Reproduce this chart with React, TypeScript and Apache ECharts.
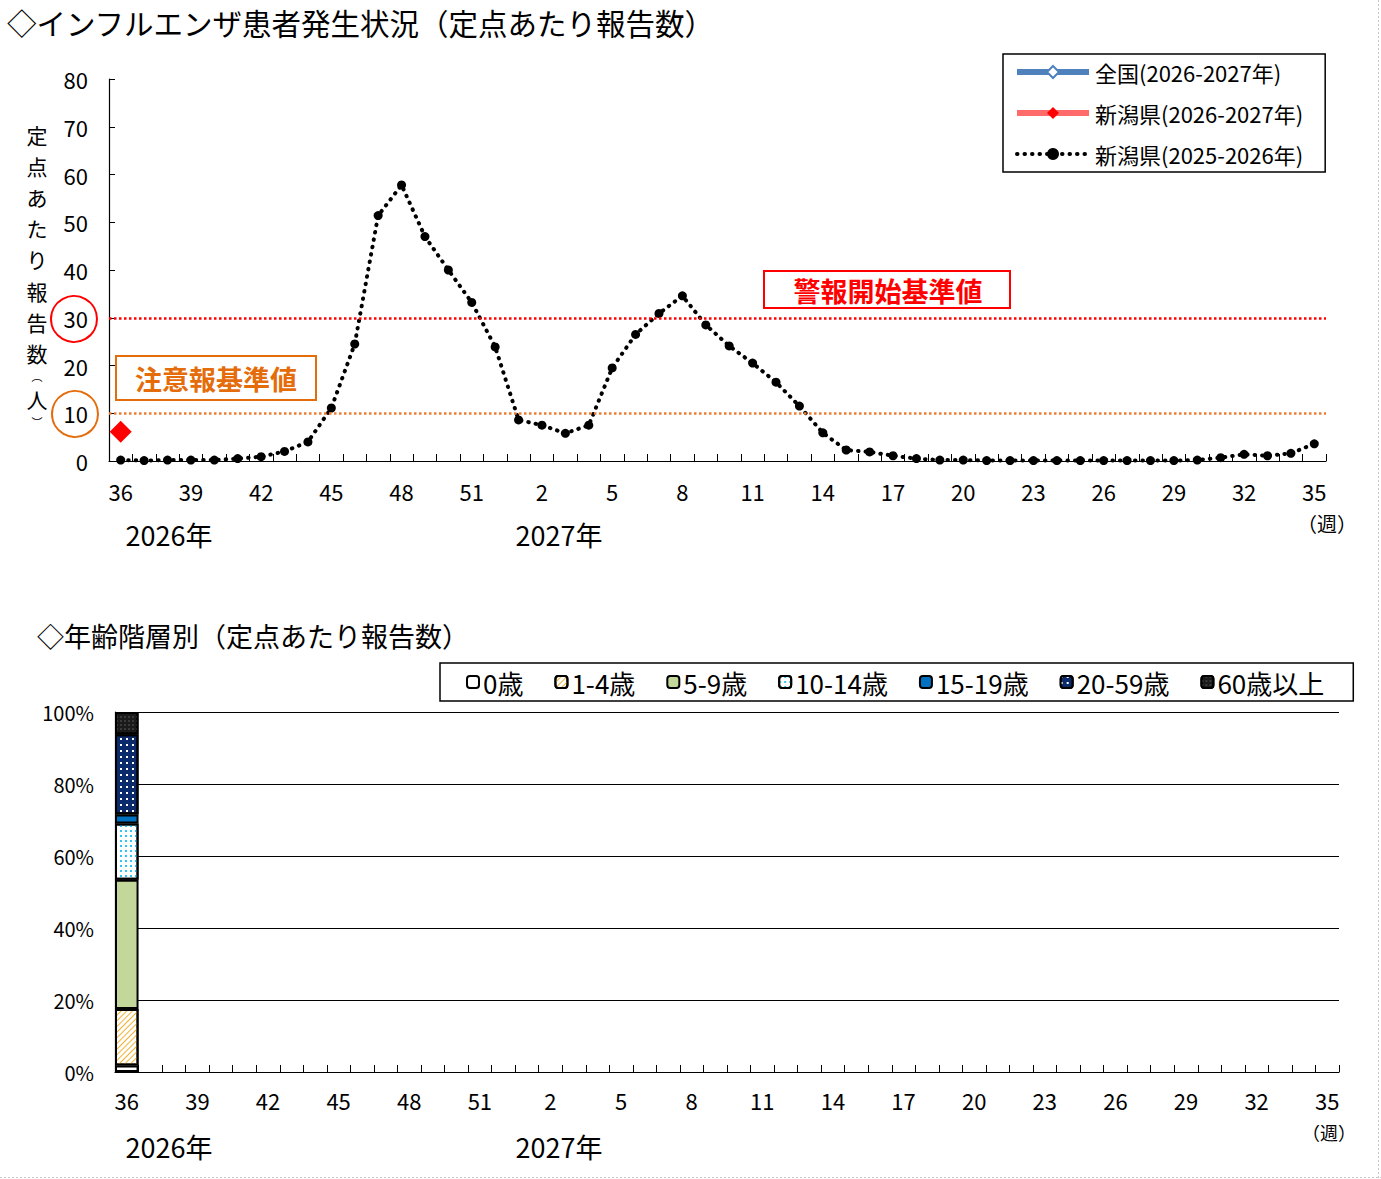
import React, { useEffect, useRef } from 'react';
import * as echarts from 'echarts';

const FONT = '"Noto Sans CJK JP", "Noto Sans", sans-serif';

// Week categories (season week numbers)
const weeks = [
  '36', '37', '38', '39', '40', '41', '42', '43', '44', '45', '46', '47', '48', '49', '50', '51', '52',
  '1', '2', '3', '4', '5', '6', '7', '8', '9', '10', '11', '12', '13', '14', '15', '16', '17', '18',
  '19', '20', '21', '22', '23', '24', '25', '26', '27', '28', '29', '30', '31', '32', '33', '34', '35',
];

const seriesNames = ['全国(2026-2027年)', '新潟県(2026-2027年)', '新潟県(2025-2026年)'];

// 全国 2026-2027: no data yet
const national2627: number[] = [];
// 新潟県 2026-2027: first week only
const niigata2627 = [6.1];
// 新潟県 2025-2026
const niigata2526 = [
  0.2, 0.1, 0.2, 0.2, 0.2, 0.5, 0.9, 2.0, 4.0, 11.1, 24.5, 51.4, 57.8, 47.0, 40.0, 33.2, 23.9,
  8.6, 7.5, 5.8, 7.5, 19.5, 26.5, 30.9, 34.6, 28.5, 24.1, 20.5, 16.5, 11.5, 5.9, 2.3, 1.9, 1.1, 0.5,
  0.2, 0.2, 0.1, 0.1, 0.1, 0.1, 0.1, 0.1, 0.1, 0.1, 0.1, 0.2, 0.7, 1.4, 1.1, 1.6, 3.6,
];

const alertLevel = 30; // 警報開始基準値
const warningLevel = 10; // 注意報基準値

// Age groups (percent share at week 36)
const ageGroups = ['0歳', '1-4歳', '5-9歳', '10-14歳', '15-19歳', '20-59歳', '60歳以上'];
const agePct = [1.8, 15.7, 35.9, 15.6, 2.5, 22.3, 6.2];

// vertical y-axis name characters
const yNameChars = ['定', '点', 'あ', 'た', 'り', '報', '告', '数'];

const ageStyles: any[] = [
  { color: '#ffffff' },
  {
    color: '#ffffff',
    decal: { symbol: 'rect', symbolSize: 1, color: '#F2B133', dashArrayX: [1, 0], dashArrayY: [1, 2.5], rotation: -Math.PI / 4 },
  },
  { color: '#C4D79B' },
  {
    color: '#ffffff',
    decal: { symbol: 'rect', symbolSize: 1, color: '#2EC5F5', dashArrayX: [1.5, 2.5], dashArrayY: [1.5, 2.5], rotation: 0 },
  },
  { color: '#0070C0' },
  {
    color: '#0B2A6B',
    decal: { symbol: 'rect', symbolSize: 1, color: '#ffffff', dashArrayX: [1.5, 4], dashArrayY: [1.5, 4], rotation: 0 },
  },
  {
    color: '#1A1A1A',
    decal: { symbol: 'rect', symbolSize: 1, color: '#3a3a3a', dashArrayX: [2, 2], dashArrayY: [2, 2], rotation: 0 },
  },
];

export default function App() {
  const ref = useRef<HTMLDivElement>(null);

  useEffect(() => {
    if (!ref.current) return;
    const chart = echarts.init(ref.current, undefined, { renderer: 'svg' });

    const xAxisBase = (gridIndex: number, margin: number) => ({
      type: 'category',
      gridIndex,
      data: weeks,
      boundaryGap: true,
      axisLine: { show: true, lineStyle: { color: '#000', width: 1.2 } },
      axisTick: { show: true, inside: true, length: 7, interval: 0, lineStyle: { color: '#000', width: 1 } },
      axisLabel: { interval: 2, fontSize: 22, color: '#000', margin, fontFamily: FONT },
      splitLine: { show: false },
    });

    const ageSeries = ageGroups.map((name, i) => ({
      name,
      type: 'bar',
      xAxisIndex: 1,
      yAxisIndex: 1,
      stack: 'age',
      barWidth: '100%',
      barCategoryGap: 0,
      data: [agePct[i]],
      itemStyle: { ...ageStyles[i], borderColor: '#000', borderWidth: 2 },
    }));

    const centered = (x: number, y: number, text: string, fontSize: number, extra: any = {}) => ({
      type: 'text',
      x,
      y,
      style: { text, fontSize, fontFamily: FONT, fill: '#000', align: 'center', verticalAlign: 'middle', ...extra },
    });

    const yNameGraphics = yNameChars.map((ch, i) => centered(37, 135 + i * 31.1, ch, 21));

    const option: any = {
      animation: false,
      backgroundColor: '#ffffff',
      textStyle: { fontFamily: FONT, color: '#000' },
      title: [
        {
          text: '◇インフルエンザ患者発生状況（定点あたり報告数）',
          left: 7,
          top: 7,
          padding: 0,
          textStyle: { fontSize: 29.5, fontWeight: 'normal', color: '#000', fontFamily: FONT },
        },
        {
          text: '◇年齢階層別（定点あたり報告数）',
          left: 37,
          top: 622,
          padding: 0,
          textStyle: { fontSize: 27, fontWeight: 'normal', color: '#000', fontFamily: FONT },
        },
      ],
      grid: [
        { left: 109, top: 79, width: 1217, height: 382 },
        { left: 115, top: 712, width: 1224, height: 360 },
      ],
      xAxis: [xAxisBase(0, 19), xAxisBase(1, 17)],
      yAxis: [
        {
          type: 'value',
          gridIndex: 0,
          min: 0,
          max: 80,
          interval: 10,
          axisLine: { show: true, lineStyle: { color: '#000', width: 1.2 } },
          axisTick: { show: true, inside: true, length: 6, lineStyle: { color: '#000' } },
          splitLine: { show: false },
          axisLabel: { fontSize: 22, color: '#000', margin: 21, fontFamily: FONT },
        },
        {
          type: 'value',
          gridIndex: 1,
          min: 0,
          max: 100,
          interval: 20,
          axisLine: { show: true, lineStyle: { color: '#000', width: 1.2 } },
          axisTick: { show: true, inside: true, length: 7, lineStyle: { color: '#000' } },
          splitLine: { show: true, lineStyle: { color: '#000', width: 1 } },
          axisLabel: { fontSize: 20, color: '#000', margin: 21, formatter: '{value}%', fontFamily: FONT },
        },
      ],
      legend: [
        {
          data: [
            { name: seriesNames[0], lineStyle: { width: 6 } },
            { name: seriesNames[1], lineStyle: { width: 6 } },
            { name: seriesNames[2], lineStyle: { width: 4 } },
          ],
          orient: 'vertical',
          left: 1003,
          top: 54,
          padding: [7, 22, 7, 11],
          itemGap: 19,
          itemWidth: 72,
          itemHeight: 15,
          borderColor: '#000',
          borderWidth: 1.5,
          backgroundColor: '#fff',
          selectedMode: false,
          textStyle: { fontSize: 22, color: '#000', fontFamily: FONT, padding: [0, 0, 0, 1] },
        },
        {
          data: ageGroups,
          orient: 'horizontal',
          left: 440,
          top: 663,
          padding: [6, 29, 6, 26],
          itemGap: 31,
          itemWidth: 12,
          itemHeight: 12,
          borderColor: '#000',
          borderWidth: 1.5,
          backgroundColor: '#fff',
          selectedMode: false,
          textStyle: { fontSize: 26, color: '#000', fontFamily: FONT, padding: [0, 0, 0, -1] },
        },
      ],
      series: [
        {
          name: seriesNames[0],
          type: 'line',
          xAxisIndex: 0,
          yAxisIndex: 0,
          data: national2627,
          symbol: 'diamond',
          symbolSize: 11,
          lineStyle: { color: '#4F81BD', width: 5 },
          itemStyle: { color: '#ffffff', borderColor: '#4F81BD', borderWidth: 2 },
        },
        {
          name: seriesNames[1],
          type: 'line',
          xAxisIndex: 0,
          yAxisIndex: 0,
          data: niigata2627,
          symbol: 'diamond',
          symbolSize: 22,
          lineStyle: { color: '#FF6B6B', width: 6 },
          itemStyle: { color: '#FF0000' },
          z: 5,
        },
        {
          name: seriesNames[2],
          type: 'line',
          xAxisIndex: 0,
          yAxisIndex: 0,
          data: niigata2526,
          symbol: 'circle',
          symbolSize: 9,
          lineStyle: { color: '#000', width: 4, type: [0.5, 7], cap: 'round' },
          itemStyle: { color: '#000' },
          markLine: {
            silent: true,
            symbol: 'none',
            label: { show: false },
            data: [
              { yAxis: alertLevel, lineStyle: { color: '#FF0000', width: 2.5, type: [2.5, 2.5] } },
              { yAxis: warningLevel, lineStyle: { color: '#ED7D31', width: 2.5, type: [2.5, 2.5] } },
            ],
          },
        },
        ...ageSeries,
      ],
      graphic: [
        // vertical y-axis name
        ...yNameGraphics,
        centered(37, 376, '︵', 11),
        centered(37, 399, '人', 21),
        centered(37, 422, '︶', 11),
        // circles around 30 and 10
        { type: 'circle', shape: { cx: 74, cy: 319, r: 23 }, style: { fill: 'none', stroke: '#FF0000', lineWidth: 2 } },
        { type: 'circle', shape: { cx: 75, cy: 414, r: 23 }, style: { fill: 'none', stroke: '#E46C0A', lineWidth: 2 } },
        // 警報開始基準値 box
        { type: 'rect', shape: { x: 764, y: 271, width: 246, height: 37 }, style: { fill: '#fff', stroke: '#FF0000', lineWidth: 2 }, z: 10 },
        { ...centered(888, 290, '警報開始基準値', 27, { fontWeight: 'bold', fill: '#FF0000' }), z: 11 },
        // 注意報基準値 box
        { type: 'rect', shape: { x: 116, y: 356, width: 200, height: 44 }, style: { fill: '#fff', stroke: '#E46C0A', lineWidth: 2 }, z: 10 },
        { ...centered(216, 378, '注意報基準値', 27, { fontWeight: 'bold', fill: '#E46C0A' }), z: 11 },
        // year labels & unit (top)
        centered(169, 534, '2026年', 27),
        centered(559, 534, '2027年', 27),
        centered(1327, 523, '（週）', 20),
        // year labels & unit (bottom)
        centered(169, 1146, '2026年', 27),
        centered(559, 1146, '2027年', 27),
        centered(1329, 1132, '（週）', 18),
        // faint outer frame at right/bottom
        { type: 'line', shape: { x1: 1378.5, y1: 0, x2: 1378.5, y2: 1179 }, style: { stroke: '#C8C8C8', lineWidth: 1, lineDash: [2, 2] } },
        { type: 'line', shape: { x1: 0, y1: 1177.5, x2: 1381, y2: 1177.5 }, style: { stroke: '#C8C8C8', lineWidth: 1, lineDash: [2, 2] } },
      ],
    };

    chart.setOption(option);
    return () => chart.dispose();
  }, []);

  return (
    <div
      ref={ref}
      style={{ position: 'absolute', left: 0, top: 0, width: 1381, height: 1179, background: '#fff' }}
    />
  );
}
